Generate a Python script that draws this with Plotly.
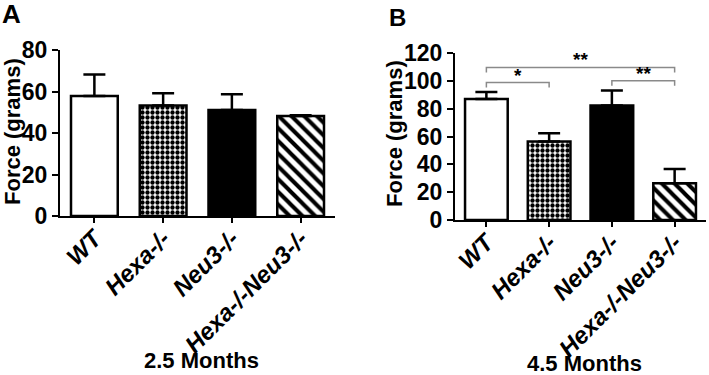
import plotly.graph_objects as go

categories = ["WT", "Hexa-/-", "Neu3-/-", "Hexa-/-Neu3-/-"]
force_25 = [57.8, 53.3, 51.1, 48.2]
err_25 = [10.4, 5.9, 7.6, 0.4]
force_45 = [87.0, 56.4, 82.2, 26.4]
err_45 = [4.9, 6.0, 10.9, 10.3]
yticks_25 = [0, 20, 40, 60, 80]
yticks_45 = [0, 20, 40, 60, 80, 100, 120]
# significance brackets for 4.5 months: (left index, right index, height, drop, label)
brackets_45 = [
    (0, 3, 109.6, 3.6, "**"),
    (0, 1, 98.8, 3.6, "*"),
    (2, 3, 100.0, 3.6, "**"),
]

FONT = "Arial, Liberation Sans, sans-serif"
W, H = 709, 375

fills = ["white", "white", "black", "white"]
patterns = [
    dict(shape=""),
    dict(shape=".", fgcolor="black", bgcolor="white", size=5, solidity=0.6, fillmode="replace"),
    dict(shape=""),
    dict(shape="\\", fgcolor="black", bgcolor="white", size=9, solidity=0.45, fillmode="replace"),
]

fig = go.Figure()


def add_bars(vals, errs, xa, ya):
    for i, c in enumerate(categories):
        fig.add_trace(go.Bar(
            x=[c], y=[vals[i]], width=0.68,
            marker=dict(color=fills[i], line=dict(color="black", width=2.5), pattern=patterns[i]),
            error_y=dict(type="data", symmetric=False, array=[errs[i]], arrayminus=[0],
                         color="black", thickness=2.5, width=11),
            xaxis=xa, yaxis=ya, showlegend=False, hoverinfo="skip",
        ))


add_bars(force_25, err_25, "x", "y")
add_bars(force_45, err_45, "x2", "y2")

xcommon = dict(
    type="category", categoryorder="array", categoryarray=categories,
    range=[-0.5, 3.5], showline=True, linecolor="black", linewidth=2,
    ticks="outside", ticklen=5, tickwidth=2, tickcolor="black", tickangle=-45,
    ticklabelstandoff=-8,
    tickfont=dict(family=FONT, size=24, color="black", weight="bold", style="italic"),
    showgrid=False, zeroline=False, fixedrange=True, automargin=False,
)
ycommon = dict(
    showline=True, linecolor="black", linewidth=2,
    ticks="outside", ticklen=6, tickwidth=2, tickcolor="black",
    tickfont=dict(family=FONT, size=23, color="black", weight="bold"),
    showgrid=False, zeroline=False, fixedrange=True, automargin=False,
)

def px_x(p):
    return p / W

def px_y(p):
    return 1 - p / H

fig.update_layout(
    width=W, height=H,
    margin=dict(l=0, r=0, t=0, b=0, autoexpand=False),
    paper_bgcolor="white", plot_bgcolor="white",
    barmode="overlay",
    xaxis=dict(xcommon, domain=[px_x(60), px_x(335)], anchor="y"),
    yaxis=dict(ycommon, domain=[px_y(216), px_y(50)], range=[0, 80], tickvals=yticks_25, anchor="x"),
    xaxis2=dict(xcommon, domain=[px_x(455), px_x(706)], anchor="y2"),
    yaxis2=dict(ycommon, domain=[px_y(220), px_y(53)], range=[0, 120], tickvals=yticks_45, anchor="x2"),
)

# brackets
for (a, b, h, d, lab) in brackets_45:
    fig.add_shape(type="path",
                  path=f"M {a},{h - d} L {a},{h} L {b},{h} L {b},{h - d}",
                  xref="x2", yref="y2", line=dict(color="#8a8a8a", width=1.5))
    fig.add_annotation(x=(a + b) / 2, y=h, xref="x2", yref="y2", text=lab, showarrow=False,
                       yanchor="bottom", yshift=-5,
                       font=dict(family=FONT, size=19, color="black", weight="bold"))

annots = [
    ("A", 11, 14, 26, 0),
    ("B", 397, 17, 24, 0),
    ("2.5 Months", 201, 360, 22, 0),
    ("4.5 Months", 584, 363, 22, 0),
    ("Force (grams)", 12, 132, 22, -90),
    ("Force (grams)", 395, 134, 22, -90),
]
for text, x, y, size, ang in annots:
    fig.add_annotation(x=px_x(x), y=px_y(y), xref="paper", yref="paper", text=text,
                       showarrow=False, xanchor="center", yanchor="middle", textangle=ang,
                       font=dict(family=FONT, size=size, color="black", weight="bold"))

fig.write_html(
    "out.html",
    config={"displayModeBar": False, "staticPlot": True},
    post_script="document.body.style.margin='0';document.body.style.overflow='hidden';",
)
